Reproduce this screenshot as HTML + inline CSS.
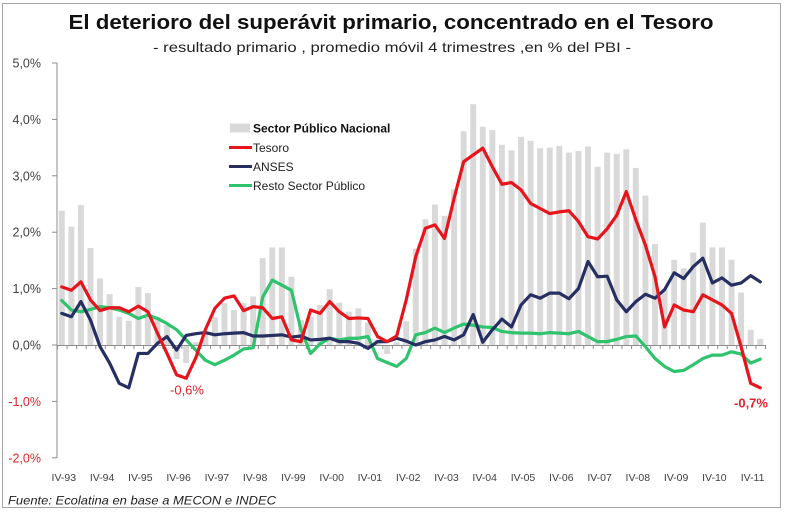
<!DOCTYPE html>
<html><head><meta charset="utf-8"><style>
html,body{margin:0;padding:0;background:#fff;}
svg{display:block;font-family:"Liberation Sans",sans-serif;}
</style></head><body>
<svg width="800" height="514" viewBox="0 0 800 514" xmlns="http://www.w3.org/2000/svg">
<defs>
<pattern id="tk" patternUnits="userSpaceOnUse" x="57" y="345" width="9.568" height="5"><rect x="0" y="0" width="1" height="5" fill="#8c8c8c"/></pattern>
</defs>
<rect x="0" y="0" width="800" height="514" fill="#fff"/>
<rect x="2.5" y="3.5" width="778" height="504" fill="none" stroke="#a6a6a6" stroke-width="1"/>
<text x="391" y="29" text-anchor="middle" font-size="20.5" font-weight="bold" fill="#111" textLength="645" lengthAdjust="spacingAndGlyphs">El deterioro del superávit primario, concentrado en el Tesoro</text>
<text x="392" y="52" text-anchor="middle" font-size="14" fill="#222" textLength="478" lengthAdjust="spacingAndGlyphs">- resultado primario , promedio móvil 4 trimestres ,en % del PBI -</text>

<g font-size="12.5" text-anchor="end">
<text x="41" y="67.5" fill="#404040">5,0%</text>
<text x="41" y="124" fill="#404040">4,0%</text>
<text x="41" y="180.3" fill="#404040">3,0%</text>
<text x="41" y="236.7" fill="#404040">2,0%</text>
<text x="41" y="293.1" fill="#404040">1,0%</text>
<text x="41" y="349.5" fill="#404040">0,0%</text>
<text x="41" y="405.9" fill="#d9262b">-1,0%</text>
<text x="41" y="462.3" fill="#d9262b">-2,0%</text>
</g>

<g transform="matrix(9.568,0,0,-56.4,57,345)" fill="#d9d9d9">
<rect x="0.19" width=".62" height="2.38"/><rect x="1.19" width=".62" height="2.10"/><rect x="2.19" width=".62" height="2.48"/><rect x="3.19" width=".62" height="1.72"/><rect x="4.19" width=".62" height="1.18"/><rect x="5.19" width=".62" height="0.90"/><rect x="6.19" width=".62" height="0.50"/><rect x="7.19" width=".62" height="0.43"/><rect x="8.19" width=".62" height="1.03"/><rect x="9.19" width=".62" height="0.92"/>
<rect x="10.19" width=".62" height="0.50"/><rect x="11.19" width=".62" height="0.35"/><rect x="12.19" y="-0.25" width=".62" height="0.25"/><rect x="13.19" y="-0.32" width=".62" height="0.32"/><rect x="14.19" width=".62" height="0.05"/><rect x="15.19" width=".62" height="0.2"/><rect x="16.19" width=".62" height="0.49"/><rect x="17.19" width=".62" height="0.74"/><rect x="18.19" width=".62" height="0.62"/><rect x="19.19" width=".62" height="0.74"/>
<rect x="20.19" width=".62" height="0.86"/><rect x="21.19" width=".62" height="1.54"/><rect x="22.19" width=".62" height="1.73"/><rect x="23.19" width=".62" height="1.73"/><rect x="24.19" width=".62" height="1.21"/><rect x="25.19" width=".62" height="0.44"/><rect x="26.19" width=".62" height="0.5"/><rect x="27.19" width=".62" height="0.71"/><rect x="28.19" width=".62" height="0.99"/><rect x="29.19" width=".62" height="0.75"/>
<rect x="30.19" width=".62" height="0.59"/><rect x="31.19" width=".62" height="0.65"/><rect x="32.19" width=".62" height="0.4"/><rect x="33.19" width=".62" height="0.1"/><rect x="34.19" y="-0.16" width=".62" height="0.16"/><rect x="35.19" width=".62" height="0.05"/><rect x="36.19" width=".62" height="0.42"/><rect x="37.19" width=".62" height="1.71"/><rect x="38.19" width=".62" height="2.23"/><rect x="39.19" width=".62" height="2.49"/>
<rect x="40.19" width=".62" height="2.29"/><rect x="41.19" width=".62" height="2.76"/><rect x="42.19" width=".62" height="3.79"/><rect x="43.19" width=".62" height="4.27"/><rect x="44.19" width=".62" height="3.87"/><rect x="45.19" width=".62" height="3.81"/><rect x="46.19" width=".62" height="3.55"/><rect x="47.19" width=".62" height="3.45"/><rect x="48.19" width=".62" height="3.69"/><rect x="49.19" width=".62" height="3.62"/>
<rect x="50.19" width=".62" height="3.49"/><rect x="51.19" width=".62" height="3.50"/><rect x="52.19" width=".62" height="3.53"/><rect x="53.19" width=".62" height="3.41"/><rect x="54.19" width=".62" height="3.44"/><rect x="55.19" width=".62" height="3.52"/><rect x="56.19" width=".62" height="3.16"/><rect x="57.19" width=".62" height="3.41"/><rect x="58.19" width=".62" height="3.39"/><rect x="59.19" width=".62" height="3.47"/>
<rect x="60.19" width=".62" height="3.14"/><rect x="61.19" width=".62" height="2.65"/><rect x="62.19" width=".62" height="1.79"/><rect x="63.19" width=".62" height="1.0"/><rect x="64.19" width=".62" height="1.51"/><rect x="65.19" width=".62" height="1.36"/><rect x="66.19" width=".62" height="1.64"/><rect x="67.19" width=".62" height="2.17"/><rect x="68.19" width=".62" height="1.73"/><rect x="69.19" width=".62" height="1.73"/>
<rect x="70.19" width=".62" height="1.51"/><rect x="71.19" width=".62" height="0.93"/><rect x="72.19" width=".62" height="0.27"/><rect x="73.19" width=".62" height="0.11"/>
</g>

<!-- axes -->
<line x1="57" y1="63" x2="57" y2="458" stroke="#8c8c8c" stroke-width="1"/>
<g stroke="#8c8c8c" stroke-width="1">
<line x1="52" y1="63" x2="57" y2="63"/><line x1="52" y1="119.4" x2="57" y2="119.4"/><line x1="52" y1="175.8" x2="57" y2="175.8"/><line x1="52" y1="232.2" x2="57" y2="232.2"/><line x1="52" y1="288.6" x2="57" y2="288.6"/><line x1="52" y1="345" x2="57" y2="345"/><line x1="52" y1="401.4" x2="57" y2="401.4"/><line x1="52" y1="457.8" x2="57" y2="457.8"/>
</g>
<line x1="57" y1="345.5" x2="765.5" y2="345.5" stroke="#8c8c8c" stroke-width="1"/>
<rect x="57" y="345" width="709.5" height="4" fill="url(#tk)"/>

<g transform="matrix(9.568,0,0,-56.4,57,345)" fill="none" stroke-linejoin="round" stroke-linecap="round">
<polyline vector-effect="non-scaling-stroke" stroke="#2ec36c" stroke-width="3.2" points="0.5,0.79 1.5,0.62 2.5,0.59 3.5,0.63 4.5,0.68 5.5,0.66 6.5,0.62 7.5,0.56 8.5,0.47 9.5,0.53 10.5,0.47 11.5,0.38 12.5,0.27 13.5,0.09 14.5,-0.09 15.5,-0.27 16.5,-0.35 17.5,-0.27 18.5,-0.18 19.5,-0.07 20.5,-0.05 21.5,0.85 22.5,1.15 23.5,1.06 24.5,0.97 25.5,0.27 26.5,-0.15 27.5,0.02 28.5,0.12 29.5,0.09 30.5,0.12 31.5,0.12 32.5,0.15 33.5,-0.24 34.5,-0.31 35.5,-0.38 36.5,-0.24 37.5,0.18 38.5,0.22 39.5,0.30 40.5,0.22 41.5,0.30 42.5,0.37 43.5,0.35 44.5,0.32 45.5,0.31 46.5,0.24 47.5,0.22 48.5,0.21 49.5,0.21 50.5,0.20 51.5,0.22 52.5,0.21 53.5,0.20 54.5,0.24 55.5,0.15 56.5,0.06 57.5,0.06 58.5,0.10 59.5,0.15 60.5,0.16 61.5,-0.03 62.5,-0.24 63.5,-0.38 64.5,-0.47 65.5,-0.45 66.5,-0.35 67.5,-0.24 68.5,-0.18 69.5,-0.18 70.5,-0.12 71.5,-0.16 72.5,-0.32 73.5,-0.25"/>
<polyline vector-effect="non-scaling-stroke" stroke="#262f61" stroke-width="3.2" points="0.5,0.56 1.5,0.50 2.5,0.77 3.5,0.44 4.5,-0.03 5.5,-0.32 6.5,-0.68 7.5,-0.76 8.5,-0.15 9.5,-0.15 10.5,0.03 11.5,0.15 12.5,-0.09 13.5,0.17 14.5,0.20 15.5,0.22 16.5,0.18 17.5,0.20 18.5,0.21 19.5,0.22 20.5,0.16 21.5,0.16 22.5,0.17 23.5,0.18 24.5,0.14 25.5,0.16 26.5,0.09 27.5,0.10 28.5,0.12 29.5,0.06 30.5,0.06 31.5,0.03 32.5,-0.06 33.5,0.06 34.5,0.06 35.5,0.12 36.5,0.07 37.5,0.0 38.5,0.06 39.5,0.09 40.5,0.15 41.5,0.09 42.5,0.18 43.5,0.54 44.5,0.05 45.5,0.27 46.5,0.46 47.5,0.32 48.5,0.71 49.5,0.89 50.5,0.83 51.5,0.92 52.5,0.92 53.5,0.82 54.5,1.0 55.5,1.48 56.5,1.21 57.5,1.22 58.5,0.80 59.5,0.59 60.5,0.77 61.5,0.90 62.5,0.83 63.5,0.98 64.5,1.28 65.5,1.18 66.5,1.39 67.5,1.54 68.5,1.10 69.5,1.19 70.5,1.06 71.5,1.10 72.5,1.23 73.5,1.12"/>
<polyline vector-effect="non-scaling-stroke" stroke="#e8141c" stroke-width="3.2" points="0.5,1.03 1.5,0.97 2.5,1.12 3.5,0.80 4.5,0.61 5.5,0.66 6.5,0.66 7.5,0.59 8.5,0.69 9.5,0.59 10.5,0.21 11.5,-0.15 12.5,-0.53 13.5,-0.59 14.5,-0.23 15.5,0.27 16.5,0.65 17.5,0.83 18.5,0.87 19.5,0.61 20.5,0.68 21.5,0.66 22.5,0.47 23.5,0.50 24.5,0.09 25.5,0.06 26.5,0.62 27.5,0.56 28.5,0.77 29.5,0.59 30.5,0.47 31.5,0.48 32.5,0.47 33.5,0.15 34.5,0.06 35.5,0.16 36.5,0.80 37.5,1.57 38.5,2.07 39.5,2.13 40.5,1.89 41.5,2.60 42.5,3.25 43.5,3.37 44.5,3.49 45.5,3.16 46.5,2.85 47.5,2.88 48.5,2.75 49.5,2.51 50.5,2.42 51.5,2.33 52.5,2.36 53.5,2.38 54.5,2.19 55.5,1.92 56.5,1.88 57.5,2.06 58.5,2.30 59.5,2.72 60.5,2.22 61.5,1.77 62.5,1.21 63.5,0.32 64.5,0.71 65.5,0.62 66.5,0.59 67.5,0.89 68.5,0.80 69.5,0.71 70.5,0.56 71.5,-0.03 72.5,-0.68 73.5,-0.76"/>
</g>

<!-- x labels -->
<g font-size="10.5" fill="#404040" text-anchor="middle">
<text x="63.8" y="481">IV-93</text><text x="102.1" y="481">IV-94</text><text x="140.3" y="481">IV-95</text><text x="178.6" y="481">IV-96</text><text x="216.9" y="481">IV-97</text><text x="255.1" y="481">IV-98</text><text x="293.4" y="481">IV-99</text><text x="331.7" y="481">IV-00</text><text x="369.9" y="481">IV-01</text><text x="408.2" y="481">IV-02</text><text x="446.5" y="481">IV-03</text><text x="484.7" y="481">IV-04</text><text x="523" y="481">IV-05</text><text x="561.3" y="481">IV-06</text><text x="599.6" y="481">IV-07</text><text x="637.8" y="481">IV-08</text><text x="676.1" y="481">IV-09</text><text x="714.4" y="481">IV-10</text><text x="752.6" y="481">IV-11</text>
</g>

<!-- legend -->
<rect x="230" y="123.5" width="20" height="9" fill="#d9d9d9"/>
<text x="253" y="132.5" font-size="12" font-weight="bold" fill="#111">Sector Público Nacional</text>
<line x1="229" y1="147.5" x2="252" y2="147.5" stroke="#e8141c" stroke-width="3"/>
<text x="253" y="152" font-size="12" fill="#222">Tesoro</text>
<line x1="229" y1="166.5" x2="252" y2="166.5" stroke="#262f61" stroke-width="3"/>
<text x="253" y="171" font-size="12" fill="#222">ANSES</text>
<line x1="229" y1="185.5" x2="252" y2="185.5" stroke="#2ec36c" stroke-width="3"/>
<text x="253" y="190" font-size="12" fill="#222">Resto Sector Público</text>

<!-- annotations -->
<text x="187" y="394.5" font-size="13" fill="#e0242a" text-anchor="middle">-0,6%</text>
<text x="751" y="407.5" font-size="13" font-weight="bold" fill="#e0242a" text-anchor="middle">-0,7%</text>

<text x="8" y="504.5" font-size="12" font-style="italic" fill="#222" textLength="268" lengthAdjust="spacingAndGlyphs">Fuente: Ecolatina en base a MECON e INDEC</text>
</svg>
</body></html>
